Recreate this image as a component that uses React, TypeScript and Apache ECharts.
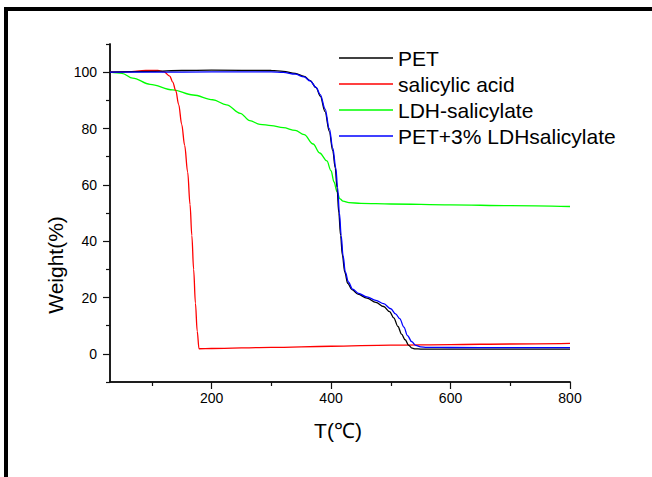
import React, { useEffect, useRef } from "react";
import * as echarts from "echarts";

const petT = [30, 100, 150, 200, 300, 320, 340, 355, 365, 375, 382, 390, 397, 403, 407, 410, 413, 416, 419, 423, 428, 435, 445, 460, 475, 488, 498, 505, 512, 518, 524, 530, 536, 541, 550, 600, 700, 800];
const petW = [100, 100.3, 100.6, 100.7, 100.6, 100.3, 99.6, 98.5, 97, 94.5, 91.5, 86, 79, 72, 66, 59, 50, 42, 35, 29, 25, 22.8, 21.2, 19.8, 18.3, 16.8, 15, 12.8, 9.7, 7, 5, 3, 2, 1.75, 1.7, 1.7, 1.7, 1.7];

const acidT = [30, 60, 90, 110, 120, 130, 135, 140, 145, 150, 155, 160, 164, 167, 170, 173, 176, 179, 200, 300, 400, 500, 600, 700, 800];
const acidW = [100, 100.2, 100.6, 100.6, 100.2, 98.6, 96.5, 93.5, 88.5, 81.5, 74, 64.5, 53, 42, 30, 18, 8, 1.8, 1.9, 2.3, 2.7, 3.1, 3.3, 3.5, 3.7];

const ldhT = [30, 50, 68, 97, 135, 169, 202, 225, 248, 264, 281, 300, 320, 340, 355, 370, 381, 393, 400, 405, 410, 415, 420, 430, 450, 500, 600, 700, 800];
const ldhW = [100, 99.6, 97.9, 95.7, 93.7, 91.9, 90.2, 88.4, 85.4, 82.8, 81.5, 81, 80.3, 79.3, 77.8, 74.5, 71.3, 68.5, 65, 61, 57.5, 55, 54.2, 53.7, 53.4, 53.2, 52.9, 52.6, 52.3];

const compT = [30, 100, 200, 300, 320, 340, 355, 365, 375, 382, 390, 397, 403, 408, 411, 414, 417, 420, 424, 429, 436, 446, 460, 475, 488, 500, 508, 515, 522, 528, 535, 542, 550, 560, 600, 700, 800];
const compW = [100, 100, 100.1, 100.1, 99.9, 99.3, 98.3, 96.9, 94.6, 92, 87, 80, 73, 66, 59, 50, 42, 35, 29, 25.5, 23, 21.5, 20.2, 19, 17.8, 16, 14.2, 12.5, 9.5, 6.5, 4.3, 3, 2.5, 2.3, 2.25, 2.2, 2.2];

const seriesNames = ["PET", "salicylic acid", "LDH-salicylate", "PET+3% LDHsalicylate"];
const seriesColors = ["#000000", "#ff0000", "#00ff00", "#0000ff"];

const xMajorTicks = [200, 400, 600, 800];
const xMinorTicks = [100, 300, 500, 700];
const yMajorTicks = [0, 20, 40, 60, 80, 100];
const yMinorTicks = [-10, 10, 30, 50, 70, 90, 110];

const xTitle = "T(℃)";
const yTitle = "Weight(%)";

const FONT = "'Liberation Sans', Arial, sans-serif";

function pairs(t: number[], w: number[]) {
  return t.map((v, i) => [v, w[i]]);
}

export default function App() {
  const ref = useRef<HTMLDivElement>(null);
  useEffect(() => {
    document.body.style.margin = "0";
    const chart = echarts.init(ref.current!, null, { renderer: "svg" });
    const allData = [pairs(petT, petW), pairs(acidT, acidW), pairs(ldhT, ldhW), pairs(compT, compW)];
    const order = [2, 1, 0, 3];
    const series = order.map((i) => ({
      name: seriesNames[i],
      type: "line",
      data: allData[i],
      showSymbol: false,
      symbol: "none",
      smooth: 0.35,
      smoothMonotone: "x",
      color: seriesColors[i],
      lineStyle: { color: seriesColors[i], width: 1.3 },
      xAxisIndex: 0,
      yAxisIndex: 0,
      z: 3 + order.indexOf(i),
    }));
    const axisColor = "#111";
    const lineStyle = { color: axisColor, width: 1.5 };
    const tickStyle = { color: axisColor, width: 1.2 };
    chart.setOption({
      animation: false,
      backgroundColor: "#ffffff",
      grid: { left: 110, right: 82, top: 44, bottom: 95, containLabel: false },
      legend: {
        data: seriesNames,
        orient: "vertical",
        left: 339,
        top: 45,
        padding: 0,
        itemGap: 0,
        itemWidth: 54,
        itemHeight: 1.5,
        icon: "rect",
        textStyle: { fontFamily: FONT, fontSize: 21, lineHeight: 26, color: "#000" },
      },
      xAxis: [
        {
          type: "value",
          min: 30,
          max: 800,
          position: "bottom",
          axisLine: { show: true, onZero: false, lineStyle },
          axisTick: { show: true, length: 7, customValues: xMajorTicks, lineStyle: tickStyle },
          axisLabel: { show: true, customValues: xMajorTicks, margin: 9, fontFamily: FONT, fontSize: 14, color: "#000" },
          splitLine: { show: false },
        },
        {
          type: "value",
          min: 30,
          max: 800,
          position: "bottom",
          offset: 0,
          axisLine: { show: true, onZero: false, lineStyle },
          axisTick: { show: true, length: 4, customValues: xMinorTicks, lineStyle: tickStyle },
          axisLabel: { show: false, customValues: xMinorTicks },
          splitLine: { show: false },
        },
      ],
      yAxis: [
        {
          type: "value",
          min: -10,
          max: 110,
          position: "left",
          axisLine: { show: true, onZero: false, lineStyle },
          axisTick: { show: true, length: 7, customValues: yMajorTicks, lineStyle: tickStyle },
          axisLabel: { show: true, customValues: yMajorTicks, margin: 13, fontFamily: FONT, fontSize: 14, color: "#000" },
          splitLine: { show: false },
        },
        {
          type: "value",
          min: -10,
          max: 110,
          position: "left",
          offset: 0,
          axisLine: { show: true, onZero: false, lineStyle },
          axisTick: { show: true, length: 4, customValues: yMinorTicks, lineStyle: tickStyle },
          axisLabel: { show: false, customValues: yMinorTicks },
          splitLine: { show: false },
        },
      ],
      series,
      graphic: [
        { type: "rect", shape: { x: 4, y: 7, width: 4, height: 470 }, style: { fill: "#000" }, silent: true },
        { type: "rect", shape: { x: 4, y: 7, width: 648, height: 4 }, style: { fill: "#000" }, silent: true },
        {
          type: "text",
          x: 338,
          y: 430,
          style: { text: xTitle, font: `21px ${FONT}`, fill: "#000", align: "center", verticalAlign: "middle" },
          silent: true,
        },
        {
          type: "text",
          x: 55,
          y: 265,
          rotation: Math.PI / 2,
          style: { text: yTitle, font: `21px ${FONT}`, fill: "#000", align: "center", verticalAlign: "middle" },
          silent: true,
        },
      ],
    });
    return () => chart.dispose();
  }, []);
  return <div ref={ref} style={{ position: "absolute", left: 0, top: 0, width: 652, height: 477 }} />;
}
